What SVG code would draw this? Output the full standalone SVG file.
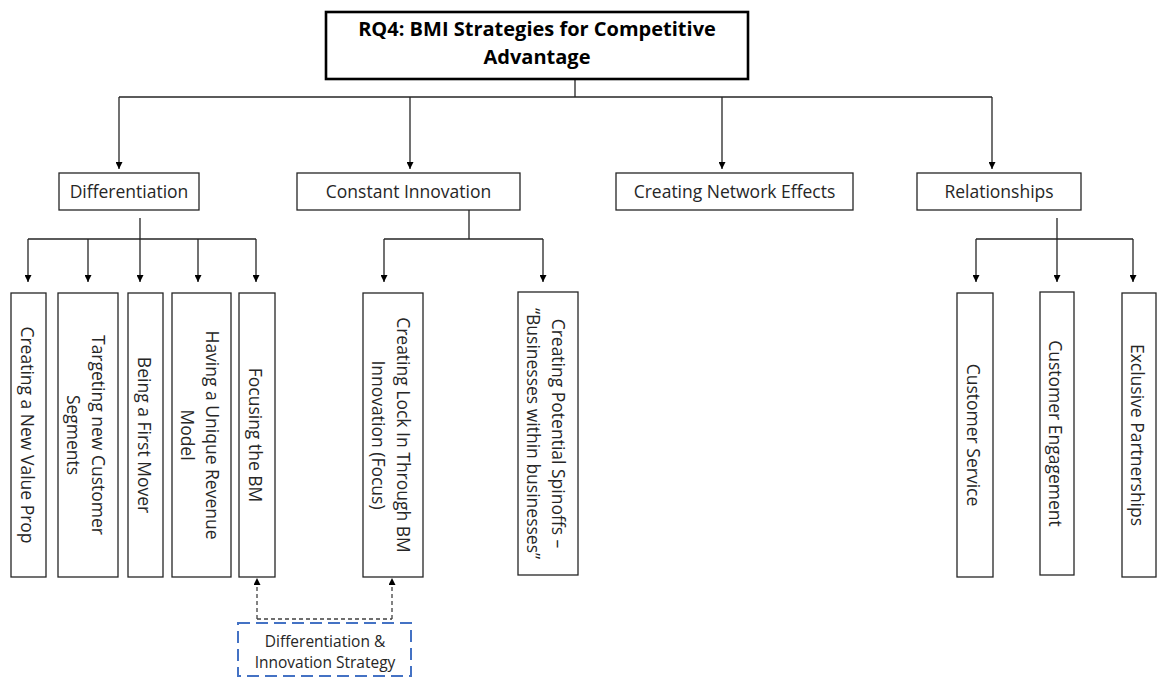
<svg xmlns="http://www.w3.org/2000/svg" width="1167" height="678" viewBox="0 0 1167 678">
<style>
.box{fill:#fff;stroke:#262626;stroke-width:1.3}
.title{fill:#fff;stroke:#000;stroke-width:2.6}
.t{font-family:"Open Sans","Liberation Sans",sans-serif;font-size:17.5px;fill:#262626;text-anchor:middle}
.tb{font-family:"Open Sans","Liberation Sans",sans-serif;font-size:20px;font-weight:bold;fill:#000;text-anchor:middle}
.ts{font-family:"Open Sans","Liberation Sans",sans-serif;font-size:15.5px;fill:#262626;text-anchor:middle}
.c{fill:none;stroke:#262626;stroke-width:1.3}
.d{fill:none;stroke:#404040;stroke-width:1.3;stroke-dasharray:4 3}
.blue{fill:#fff;stroke:#4472C4;stroke-width:2;stroke-dasharray:12 6}
</style>
<defs>
<marker id="ah" markerUnits="userSpaceOnUse" markerWidth="7" markerHeight="7" refX="7" refY="3.5" orient="auto">
<path d="M0,0 L7,3.5 L0,7 z" fill="#000"/>
</marker>
</defs>
<rect width="1167" height="678" fill="#fff"/>
<g id="connectors">
<path class="c" d="M575,79 V97 M119,97 H992"/>
<path class="c" d="M119,97 V169" marker-end="url(#ah)"/>
<path class="c" d="M410,97 V169" marker-end="url(#ah)"/>
<path class="c" d="M722,97 V169" marker-end="url(#ah)"/>
<path class="c" d="M992,97 V169" marker-end="url(#ah)"/>
<path class="c" d="M140,218 V239 M28,239 H256"/>
<path class="c" d="M28,239 V282" marker-end="url(#ah)"/>
<path class="c" d="M88,239 V282" marker-end="url(#ah)"/>
<path class="c" d="M140,239 V282" marker-end="url(#ah)"/>
<path class="c" d="M198,239 V282" marker-end="url(#ah)"/>
<path class="c" d="M256,239 V282" marker-end="url(#ah)"/>
<path class="c" d="M469,210 V239 M384,239 H543"/>
<path class="c" d="M384,239 V282" marker-end="url(#ah)"/>
<path class="c" d="M543,239 V282" marker-end="url(#ah)"/>
<path class="c" d="M1057,218 V239 M976,239 H1133"/>
<path class="c" d="M976,239 V282" marker-end="url(#ah)"/>
<path class="c" d="M1057,239 V282" marker-end="url(#ah)"/>
<path class="c" d="M1133,239 V282" marker-end="url(#ah)"/>
<path class="d" d="M257,619 V578" marker-end="url(#ah)"/>
<path class="d" d="M392,619 V578" marker-end="url(#ah)"/>
<path class="d" d="M257,619 H392"/>
</g>
<g id="root">
<rect class="title" x="326" y="12" width="422" height="67"/>
<text class="tb" x="537" y="35.5">RQ4: BMI Strategies for Competitive</text>
<text class="tb" x="537" y="63.5">Advantage</text>
</g>
<g id="differentiation">
<rect class="box" x="59" y="173" width="140" height="37"/>
<text class="t" x="129" y="198">Differentiation</text>
</g>
<g id="constant-innovation">
<rect class="box" x="297" y="173" width="223" height="37"/>
<text class="t" x="408.5" y="198">Constant Innovation</text>
</g>
<g id="network-effects">
<rect class="box" x="616" y="173" width="237" height="37"/>
<text class="t" x="734.5" y="198">Creating Network Effects</text>
</g>
<g id="relationships">
<rect class="box" x="917" y="173" width="164" height="37"/>
<text class="t" x="999" y="198">Relationships</text>
</g>
<g id="value-prop">
<rect class="box" x="11" y="293" width="35" height="284"/>
<text class="t" transform="translate(28.5,435) rotate(90)" y="8">Creating a New Value Prop</text>
</g>
<g id="customer-segments">
<rect class="box" x="58" y="293" width="60" height="284"/>
<text class="t" transform="translate(88,435) rotate(90)"><tspan x="0" y="-4">Targeting new Customer</tspan><tspan x="0" y="21">Segments</tspan></text>
</g>
<g id="first-mover">
<rect class="box" x="128" y="293" width="35" height="284"/>
<text class="t" transform="translate(145.5,435) rotate(90)" y="8">Being a First Mover</text>
</g>
<g id="revenue-model">
<rect class="box" x="172" y="293" width="59" height="284"/>
<text class="t" transform="translate(201.5,435) rotate(90)"><tspan x="0" y="-4">Having a Unique Revenue</tspan><tspan x="0" y="21">Model</tspan></text>
</g>
<g id="focusing-bm">
<rect class="box" x="239" y="293" width="36" height="284"/>
<text class="t" transform="translate(257,435) rotate(90)" y="8">Focusing the BM</text>
</g>
<g id="lock-in">
<rect class="box" x="363" y="293" width="60" height="284"/>
<text class="t" transform="translate(393,435) rotate(90)"><tspan x="0" y="-4">Creating Lock In Through BM</tspan><tspan x="0" y="21">Innovation (Focus)</tspan></text>
</g>
<g id="spinoffs">
<rect class="box" x="518" y="292" width="60" height="283"/>
<text class="t" transform="translate(548,433.5) rotate(90)"><tspan x="0" y="-4">Creating Potential Spinoffs –</tspan><tspan x="0" y="21">“Businesses within businesses”</tspan></text>
</g>
<g id="customer-service">
<rect class="box" x="957" y="293" width="36" height="284"/>
<text class="t" transform="translate(975,435) rotate(90)" y="8">Customer Service</text>
</g>
<g id="customer-engagement">
<rect class="box" x="1040" y="292" width="34" height="283"/>
<text class="t" transform="translate(1057,433.5) rotate(90)" y="8">Customer Engagement</text>
</g>
<g id="exclusive-partnerships">
<rect class="box" x="1122" y="293" width="34" height="284"/>
<text class="t" transform="translate(1139,435) rotate(90)" y="8">Exclusive Partnerships</text>
</g>
<g id="diff-innovation-strategy">
<rect class="blue" x="238" y="623" width="173" height="53"/>
<text class="ts" x="325" y="647">Differentiation &amp;</text>
<text class="ts" x="325" y="668">Innovation Strategy</text>
</g>
</svg>
